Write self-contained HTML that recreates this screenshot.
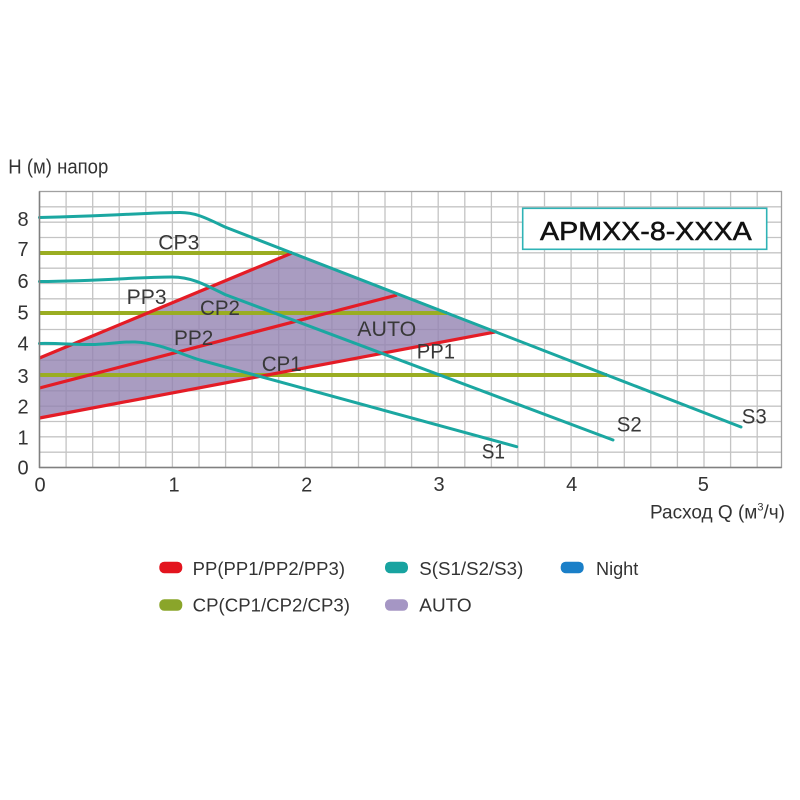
<!DOCTYPE html>
<html><head><meta charset="utf-8"><style>
html,body{margin:0;padding:0;background:#fff;}
svg{display:block;}
text{font-family:"Liberation Sans",Arial,sans-serif;}
</style></head><body>
<svg width="800" height="800" viewBox="0 0 800 800" xmlns="http://www.w3.org/2000/svg">
<rect width="800" height="800" fill="#fff"/>
<!-- grid -->
<g stroke="#c4c4c4" stroke-width="1.3">
<line x1="66.1" y1="191.5" x2="66.1" y2="467.5"/><line x1="92.7" y1="191.5" x2="92.7" y2="467.5"/><line x1="119.2" y1="191.5" x2="119.2" y2="467.5"/><line x1="145.8" y1="191.5" x2="145.8" y2="467.5"/><line x1="172.4" y1="191.5" x2="172.4" y2="467.5"/><line x1="199" y1="191.5" x2="199" y2="467.5"/><line x1="225.6" y1="191.5" x2="225.6" y2="467.5"/><line x1="252.1" y1="191.5" x2="252.1" y2="467.5"/><line x1="278.7" y1="191.5" x2="278.7" y2="467.5"/><line x1="305.3" y1="191.5" x2="305.3" y2="467.5"/><line x1="331.9" y1="191.5" x2="331.9" y2="467.5"/><line x1="358.5" y1="191.5" x2="358.5" y2="467.5"/><line x1="385" y1="191.5" x2="385" y2="467.5"/><line x1="411.6" y1="191.5" x2="411.6" y2="467.5"/><line x1="438.2" y1="191.5" x2="438.2" y2="467.5"/><line x1="464.8" y1="191.5" x2="464.8" y2="467.5"/><line x1="491.4" y1="191.5" x2="491.4" y2="467.5"/><line x1="517.9" y1="191.5" x2="517.9" y2="467.5"/><line x1="544.5" y1="191.5" x2="544.5" y2="467.5"/><line x1="571.1" y1="191.5" x2="571.1" y2="467.5"/><line x1="597.7" y1="191.5" x2="597.7" y2="467.5"/><line x1="624.3" y1="191.5" x2="624.3" y2="467.5"/><line x1="650.8" y1="191.5" x2="650.8" y2="467.5"/><line x1="677.4" y1="191.5" x2="677.4" y2="467.5"/><line x1="704" y1="191.5" x2="704" y2="467.5"/><line x1="730.6" y1="191.5" x2="730.6" y2="467.5"/><line x1="757.2" y1="191.5" x2="757.2" y2="467.5"/>
<line x1="39.5" y1="452.2" x2="781.5" y2="452.2"/><line x1="39.5" y1="436.8" x2="781.5" y2="436.8"/><line x1="39.5" y1="421.5" x2="781.5" y2="421.5"/><line x1="39.5" y1="406.2" x2="781.5" y2="406.2"/><line x1="39.5" y1="390.8" x2="781.5" y2="390.8"/><line x1="39.5" y1="375.5" x2="781.5" y2="375.5"/><line x1="39.5" y1="360.2" x2="781.5" y2="360.2"/><line x1="39.5" y1="344.8" x2="781.5" y2="344.8"/><line x1="39.5" y1="329.5" x2="781.5" y2="329.5"/><line x1="39.5" y1="314.2" x2="781.5" y2="314.2"/><line x1="39.5" y1="298.8" x2="781.5" y2="298.8"/><line x1="39.5" y1="283.5" x2="781.5" y2="283.5"/><line x1="39.5" y1="268.2" x2="781.5" y2="268.2"/><line x1="39.5" y1="252.8" x2="781.5" y2="252.8"/><line x1="39.5" y1="237.5" x2="781.5" y2="237.5"/><line x1="39.5" y1="222.2" x2="781.5" y2="222.2"/><line x1="39.5" y1="206.8" x2="781.5" y2="206.8"/>
</g>
<rect x="39.5" y="191.5" width="742" height="276" fill="none" stroke="#a0a0a0" stroke-width="1.3"/>
<!-- AUTO region -->
<polygon points="39.5,358 292,253 496.7,332 39.5,418" fill="#9483b1" fill-opacity="0.8"/>
<!-- CP lines -->
<g stroke="#9aad22" stroke-width="4" fill="none">
<line x1="39.5" y1="253" x2="292" y2="253"/>
<line x1="39.5" y1="313" x2="447" y2="313"/>
<line x1="39.5" y1="375" x2="607" y2="375"/>
</g>
<!-- PP lines -->
<g stroke="#e41c26" stroke-width="3.2" fill="none">
<line x1="39.5" y1="358" x2="292" y2="253"/>
<line x1="39.5" y1="388" x2="397" y2="295"/>
<line x1="39.5" y1="418" x2="496.7" y2="331.7"/>
</g>
<!-- S curves -->
<g stroke="#1ba7a1" stroke-width="3" fill="none" stroke-linecap="round">
<path d="M39.5,217.5 C110,216 150,212.5 180,212.5 C196,212.5 206,218 225,227 L741,427"/>
<path d="M39.5,281.5 C100,281 140,277 172,277 C190,277 202,283 225,294.5 L613,440"/>
<path d="M39.5,343.5 C60,343 75,345 95,344.5 C110,344 122,341.5 135,342 C160,343 180,354 200,360 L516.7,446.7"/>
</g>
<!-- axes -->
<line x1="39.5" y1="191.5" x2="39.5" y2="468" stroke="#808080" stroke-width="1.5"/>
<line x1="39" y1="467.5" x2="781.5" y2="467.5" stroke="#808080" stroke-width="1.5"/>
<!-- curve labels -->
<g fill="#383838" font-size="21">
<text x="158.3" y="249.3" textLength="41" lengthAdjust="spacingAndGlyphs">CP3</text>
<text x="126.7" y="304" textLength="40" lengthAdjust="spacingAndGlyphs">PP3</text>
<text x="200" y="315" textLength="40" lengthAdjust="spacingAndGlyphs">CP2</text>
<text x="174" y="345" textLength="39.3" lengthAdjust="spacingAndGlyphs">PP2</text>
<text x="357.3" y="336" textLength="59" lengthAdjust="spacingAndGlyphs">AUTO</text>
<text x="416.7" y="358.3" textLength="38.3" lengthAdjust="spacingAndGlyphs">PP1</text>
<text x="261.7" y="371" textLength="40" lengthAdjust="spacingAndGlyphs">CP1</text>
<text x="481.7" y="458.3" textLength="23.3" lengthAdjust="spacingAndGlyphs">S1</text>
<text x="616.7" y="431.7" textLength="25" lengthAdjust="spacingAndGlyphs">S2</text>
<text x="741.7" y="423.3" textLength="25" lengthAdjust="spacingAndGlyphs">S3</text>
</g>
<!-- y ticks -->
<g fill="#333" font-size="20" text-anchor="middle">
<text x="23" y="474.5">0</text>
<text x="23" y="444.5">1</text>
<text x="23" y="413.7">2</text>
<text x="23" y="382.8">3</text>
<text x="23" y="350.7">4</text>
<text x="23" y="319.5">5</text>
<text x="23" y="288">6</text>
<text x="23" y="256">7</text>
<text x="23" y="225.8">8</text>
</g>
<!-- x ticks -->
<g fill="#333" font-size="20" text-anchor="middle">
<text x="40" y="491.5">0</text>
<text x="174" y="491.5">1</text>
<text x="306.7" y="491.5">2</text>
<text x="439" y="491">3</text>
<text x="571.7" y="491">4</text>
<text x="703.3" y="491">5</text>
</g>
<!-- axis titles -->
<text x="8.3" y="173.3" font-size="20" fill="#333" textLength="100" lengthAdjust="spacingAndGlyphs">H (м) напор</text>
<text x="650" y="518.3" font-size="19" fill="#333" textLength="135" lengthAdjust="spacingAndGlyphs">Расход Q (м<tspan font-size="11" dy="-8">3</tspan><tspan dy="8">/ч)</tspan></text>
<!-- title box -->
<rect x="522.7" y="208.3" width="244" height="41" fill="#fff" stroke="#2fb3b6" stroke-width="1.6"/>
<text x="540" y="240" font-size="26" fill="#111" textLength="211.7" lengthAdjust="spacingAndGlyphs" stroke="#111" stroke-width="0.5">APMXX-8-XXXA</text>
<!-- legend -->
<rect x="159.3" y="561.7" width="23" height="11.5" rx="5" fill="#e3141e"/>
<text x="192.7" y="575" font-size="18" fill="#333" textLength="152.3" lengthAdjust="spacingAndGlyphs">PP(PP1/PP2/PP3)</text>
<rect x="385" y="561.7" width="23" height="11.5" rx="5" fill="#18a3a0"/>
<text x="419.3" y="575" font-size="18" fill="#333" textLength="104" lengthAdjust="spacingAndGlyphs">S(S1/S2/S3)</text>
<rect x="560.7" y="561.7" width="23" height="11.5" rx="5" fill="#1a7fc8"/>
<text x="596" y="575" font-size="18" fill="#333" textLength="42.3" lengthAdjust="spacingAndGlyphs">Night</text>
<rect x="159.3" y="599.3" width="23" height="11.5" rx="5" fill="#8aa52a"/>
<text x="192.7" y="611.7" font-size="18" fill="#333" textLength="157.3" lengthAdjust="spacingAndGlyphs">CP(CP1/CP2/CP3)</text>
<rect x="385" y="599.3" width="23" height="11.5" rx="5" fill="#a596c4"/>
<text x="419.3" y="611.7" font-size="18" fill="#333" textLength="52.4" lengthAdjust="spacingAndGlyphs">AUTO</text>
</svg>
</body></html>
